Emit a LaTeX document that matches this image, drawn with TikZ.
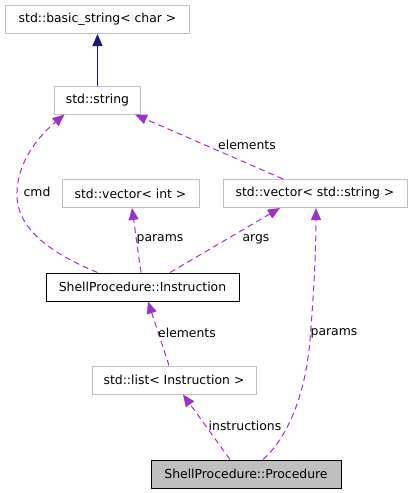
\documentclass[tikz,border=0pt]{standalone}
\usepackage{fontspec}
\setmainfont{DejaVu Sans}
\usetikzlibrary{arrows.meta}
\definecolor{edgepurple}{HTML}{9A32CD}
\definecolor{edgenavy}{HTML}{191970}
\definecolor{boxgray}{HTML}{BFBFBF}
\tikzset{
  cls/.style={draw=boxgray, line width=1pt, inner sep=0pt, minimum height=28pt, font=\fontsize{12.4}{14}\selectfont, text=black},
  mainbox/.style={cls, draw=black},
  focusbox/.style={cls, draw=black, fill=boxgray},
  usage/.style={draw=edgepurple, line width=1pt, dash pattern=on 6pt off 4pt, -{Triangle[length=12pt,width=10pt,fill=edgepurple]}},
  inherit/.style={draw=edgenavy, line width=1pt, -{Triangle[length=12pt,width=10pt,fill=edgenavy]}},
  lbl/.style={font=\fontsize{12.4}{14}\selectfont, inner sep=0pt}
}
\begin{document}
\begin{tikzpicture}[x=1pt,y=-1pt]
\useasboundingbox (0,0) rectangle (412,493);
\node[cls, minimum width=184pt] (bstr) at (97.5,19.5) {std::basic\_string< char >};
\node[cls, minimum width=86pt] (string) at (97.5,100) {std::string};
\node[cls, minimum width=137pt] (vint) at (130.5,193.5) {std::vector< int >};
\node[cls, minimum width=184pt] (vstr) at (315,193.5) {std::vector< std::string >};
\node[mainbox, minimum width=193pt] (instr) at (142.5,287) {ShellProcedure::Instruction};
\node[cls, minimum width=164pt] (list) at (174,380) {std::list< Instruction >};
\node[focusbox, minimum width=190pt] (proc) at (246,474) {ShellProcedure::Procedure};

\draw[inherit] (string.north) -- (bstr.south);

\draw[usage] ([xshift=-45pt]instr.north) .. controls (55,255) and (15,230) .. (17,192)
  .. controls (18,160) and (40,135) .. ([xshift=-33pt]string.south);
\node[lbl] (lcmd) at (37,192) {cmd};

\draw[usage] ([xshift=-32pt]vstr.north) -- ([xshift=37.5pt]string.south);
\node[lbl] (lel1) at (247,145) {elements};

\draw[usage] ([xshift=-1.5pt]instr.north) -- ([xshift=1.5pt]vint.south);
\node[lbl] (lpar1) at (160,239) {params};

\draw[usage] ([xshift=27.5pt]instr.north) -- ([xshift=-35pt]vstr.south);
\node[lbl] (largs) at (256,239) {args};

\draw[usage] ([xshift=-5pt]list.north) -- ([xshift=5.5pt]instr.south);
\node[lbl] (lel2) at (187,333) {elements};

\draw[usage] ([xshift=-16pt]proc.north) -- ([xshift=9pt]list.south);
\node[lbl] (linstr) at (245,426) {instructions};

\draw[usage] ([xshift=17pt]proc.north) .. controls (285,440) and (305,400) .. (310,340)
  .. controls (314,290) and (316,250) .. ([xshift=1pt]vstr.south);
\node[lbl] (lpar2) at (334,333) {params};
\end{tikzpicture}
\end{document}
